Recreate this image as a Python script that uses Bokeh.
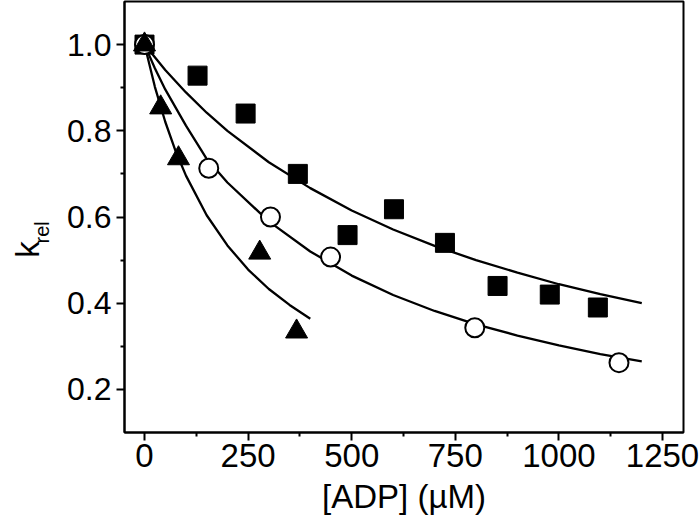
import math
from bokeh.plotting import figure
from bokeh.layouts import row
from bokeh.models import FixedTicker, NumeralTickFormatter, Range1d, Label
from bokeh.embed import file_html
from bokeh.resources import INLINE

# ---- data ----
sq_x = [0, 128, 244, 370, 490, 602, 725, 852, 978, 1094]
sq_y = [1.0, 0.928, 0.84, 0.70, 0.558, 0.618, 0.54, 0.44, 0.42, 0.39]

circ_x = [0, 155, 304, 449, 797, 1145]
circ_y = [1.0, 0.713, 0.60, 0.507, 0.343, 0.262]

tri_x = [0, 39, 82, 278, 367]
tri_y = [1.0, 0.854, 0.736, 0.517, 0.334]

# fitted curves
fit_sq_x = [0, 50, 100, 150, 200, 300, 400, 500, 600, 700, 800, 900, 1000, 1100, 1200]
fit_sq_y = [1.0, 0.941, 0.889, 0.842, 0.800, 0.727, 0.667, 0.615, 0.571, 0.533, 0.500, 0.471, 0.444, 0.421, 0.400]

fit_circ_x = [0, 25, 50, 100, 150, 200, 300, 400, 500, 600, 700, 800, 900, 1000, 1100, 1200]
fit_circ_y = [1.0, 0.945, 0.896, 0.812, 0.735, 0.680, 0.590, 0.520, 0.464, 0.419, 0.382, 0.351, 0.325, 0.302, 0.282, 0.265]

fit_tri_x = [0, 25, 50, 75, 100, 150, 200, 250, 300, 350, 400]
fit_tri_y = [1.0, 0.902, 0.821, 0.753, 0.696, 0.604, 0.534, 0.478, 0.433, 0.396, 0.364]

x_ticks = [0, 250, 500, 750, 1000, 1250]
x_minor = [125, 375, 625, 875, 1125]
y_ticks = [0.2, 0.4, 0.6, 0.8, 1.0]
y_minor = [0.3, 0.5, 0.7, 0.9]

x_title = "[ADP] (µM)"
y_title_main = "k"
y_title_sub = "rel"

FONT = "Liberation Sans"
LBL_W = 60
H = 525
TOP, BOTTOM = 1, 93          # borders above / below the plotting frame
FRAME_H = H - TOP - BOTTOM   # 431

# ---- narrow strip holding the rotated y-axis title (frame in pixel units) ----
lbl = figure(width=LBL_W, height=H, output_backend="svg", toolbar_location=None,
             x_range=Range1d(0, LBL_W), y_range=Range1d(0, FRAME_H),
             x_axis_type=None, y_axis_type=None,
             min_border_left=0, min_border_right=0, min_border_top=TOP, min_border_bottom=BOTTOM)
lbl.outline_line_color = None
lbl.grid.visible = False
# positions in pixels measured from the frame's bottom-left corner
lbl.add_layout(Label(x=27, y=(TOP + FRAME_H) - 249, text=y_title_main,
                     angle=math.pi / 2, angle_units="rad",
                     text_font=FONT, text_font_size="33px", text_align="center",
                     text_baseline="alphabetic", text_color="black"))
lbl.add_layout(Label(x=41, y=(TOP + FRAME_H) - 243, text=y_title_sub,
                     angle=math.pi / 2, angle_units="rad",
                     text_font=FONT, text_font_size="20px", text_align="left",
                     text_baseline="alphabetic", text_color="black"))

# ---- main plot ----
p = figure(width=700 - LBL_W, height=H, output_backend="svg", toolbar_location=None,
           x_range=Range1d(-48.3, 1300.7), y_range=Range1d(0.1, 1.1),
           min_border_left=124 - LBL_W, min_border_right=17,
           min_border_top=TOP, min_border_bottom=BOTTOM)
p.background_fill_color = "white"
p.border_fill_color = "white"
p.grid.visible = False
p.outline_line_color = "black"
p.outline_line_width = 2

for ax in (p.xaxis[0], p.yaxis[0]):
    ax.axis_line_width = 2
    ax.axis_line_color = "black"
    ax.major_tick_line_width = 2
    ax.minor_tick_line_width = 2
    ax.major_tick_out = 8
    ax.major_tick_in = 0
    ax.minor_tick_out = 4
    ax.minor_tick_in = 0
    ax.major_label_text_font = FONT
    ax.major_label_text_color = "black"

p.xaxis.ticker = FixedTicker(ticks=x_ticks, minor_ticks=x_minor)
p.yaxis.ticker = FixedTicker(ticks=y_ticks, minor_ticks=y_minor)
p.yaxis.formatter = NumeralTickFormatter(format="0.0")
p.xaxis.major_label_text_font_size = "33px"
p.yaxis.major_label_text_font_size = "32px"
p.xaxis.major_label_standoff = 3
p.yaxis.major_label_standoff = 5

p.xaxis.axis_label = x_title
p.xaxis.axis_label_text_font = FONT
p.xaxis.axis_label_text_font_size = "33px"
p.xaxis.axis_label_text_font_style = "normal"
p.xaxis.axis_label_standoff = 8
p.xaxis.axis_label_text_color = "black"

# curves
for fx, fy in ((fit_sq_x, fit_sq_y), (fit_circ_x, fit_circ_y), (fit_tri_x, fit_tri_y)):
    p.line(fx, fy, line_color="black", line_width=2.3)

# markers
p.scatter(sq_x, sq_y, marker="square", size=19, fill_color="black", line_color="black")
p.scatter(circ_x, circ_y, marker="circle", size=19, fill_color="white", line_color="black", line_width=2)
p.scatter(tri_x, tri_y, marker="triangle", size=22, fill_color="black", line_color="black")

layout = row(lbl, p)
open("out.html", "w").write(file_html(layout, INLINE))
